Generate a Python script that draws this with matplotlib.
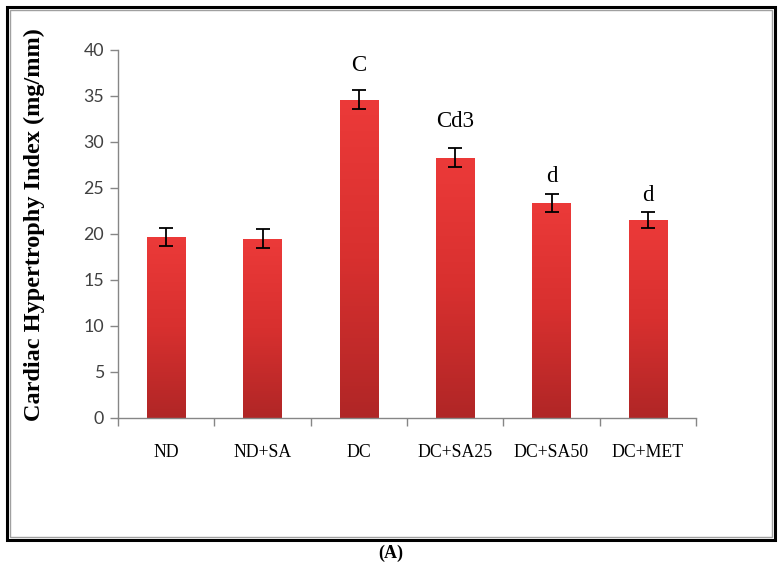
import numpy as np
import matplotlib as mpl
mpl.use('Agg')
from matplotlib import pyplot as plt
from matplotlib.patches import Rectangle
from matplotlib.colors import LinearSegmentedColormap

groups = ['ND', 'ND+SA', 'DC', 'DC+SA25', 'DC+SA50', 'DC+MET']
values = [19.7, 19.5, 34.6, 28.3, 23.4, 21.5]
errors = [1.0, 1.0, 1.0, 1.0, 1.0, 0.9]
letters = ['', '', 'C', 'Cd3', 'd', 'd']
letter_gap = [0, 0, 2.7, 2.9, 1.8, 1.8]

fig = plt.figure(figsize=(7.82, 5.66), dpi=100)

# double frame around the chart
fig.patches.append(Rectangle((7 / 782, 1 - 540 / 566), 768 / 782, 533 / 566,
                             transform=fig.transFigure, fill=False,
                             edgecolor='black', linewidth=2.2))
fig.patches.append(Rectangle((10 / 782, 1 - 537 / 566), 762 / 782, 527 / 566,
                             transform=fig.transFigure, fill=False,
                             edgecolor='#a0a0a0', linewidth=1.0))

ax = fig.add_axes([118 / 782, 1 - 418 / 566, 578 / 782, 368 / 566])

grad = LinearSegmentedColormap.from_list('bar', ['#b02626', '#d8302f', '#ec3a39'])
x = np.arange(len(groups))
width = 0.4
bars = ax.bar(x, values, width=width, color='none', edgecolor='none', zorder=2)
g = np.linspace(0, 1, 256).reshape(-1, 1)
for b in bars:
    x0, y0 = b.get_x(), b.get_y()
    im = ax.imshow(g, cmap=grad, origin='lower', aspect='auto',
                   extent=[x0, x0 + b.get_width(), y0, y0 + b.get_height()],
                   zorder=2)
    im.set_clip_path(b)

ax.errorbar(x, values, yerr=errors, fmt='none', ecolor='black',
            elinewidth=1.3, capsize=5, capthick=1.3, zorder=3)

for xi, v, e, t, gap in zip(x, values, errors, letters, letter_gap):
    if t:
        ax.text(xi, v + e + gap, t, ha='center', va='center',
                family='Liberation Serif', fontsize=16.5, color='black')

ax.set_xlim(-0.5, len(groups) - 0.5)
ax.set_ylim(0, 40)
ax.set_yticks(np.arange(0, 41, 5))
ax.set_xticks(x)
ax.set_xticklabels(groups, family='Liberation Serif', fontsize=12.8)
ax.set_xticks(np.arange(-0.5, len(groups), 1), minor=True)
ax.tick_params(axis='x', which='major', length=0, pad=19)
ax.tick_params(axis='x', which='minor', length=6, color='#868686', width=1)
ax.tick_params(axis='y', length=6, color='#868686', width=1, pad=4,
               labelsize=12.8, labelcolor='#404040')
for lab in ax.get_yticklabels():
    lab.set_family('Lato')

for s in ['top', 'right']:
    ax.spines[s].set_visible(False)
for s in ['left', 'bottom']:
    ax.spines[s].set_color('#868686')
    ax.spines[s].set_linewidth(1)

ax.set_ylabel('Cardiac Hypertrophy Index (mg/mm)', family='Liberation Serif',
              fontweight='bold', fontsize=17.5, va='center')
ax.yaxis.set_label_coords(-0.145, 0.525)

fig.text(391 / 782, 1 - 553 / 566, '(A)', ha='center', va='center',
         family='Liberation Serif', fontweight='bold', fontsize=13)

fig.savefig('out.png', dpi=100)
